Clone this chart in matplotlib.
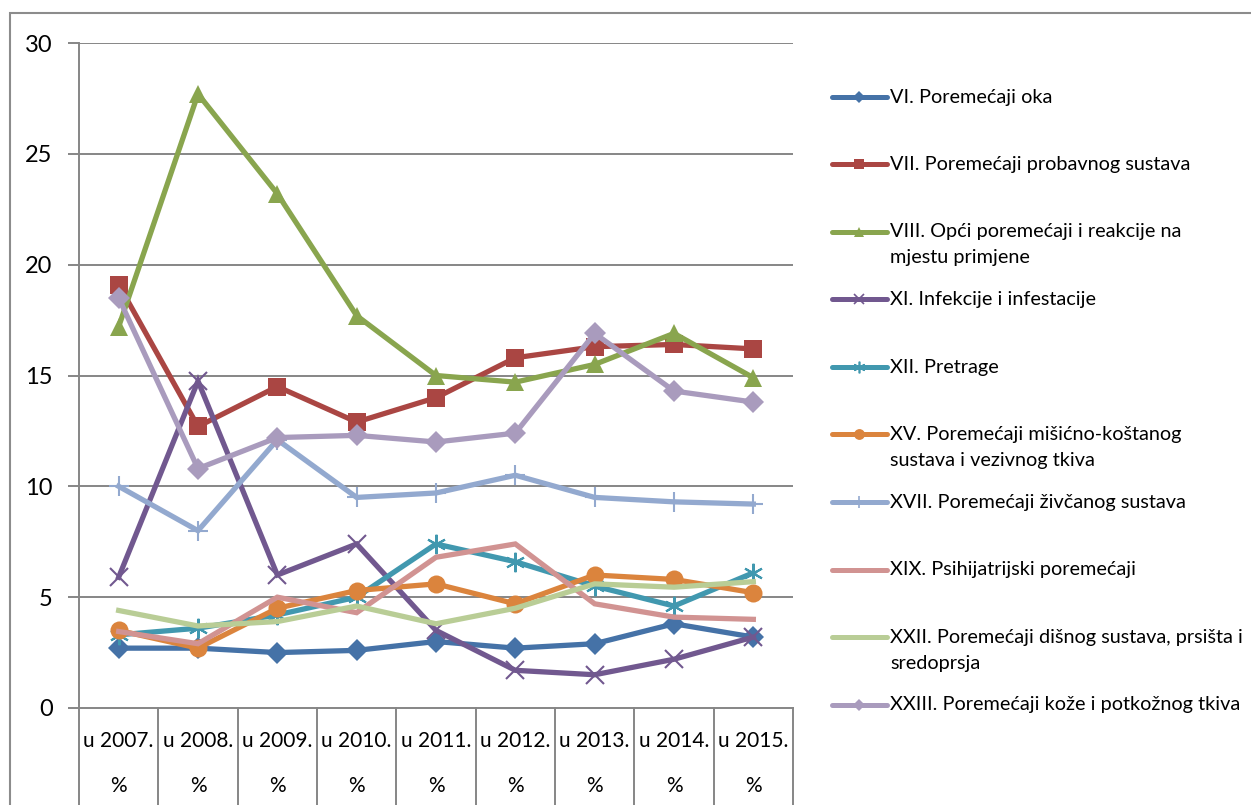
import matplotlib
matplotlib.use("Agg")
import matplotlib.pyplot as plt
from matplotlib.lines import Line2D
from matplotlib.patches import Rectangle

plt.rcParams['font.family'] = ['Lato', 'DejaVu Sans']

years = ["u 2007.", "u 2008.", "u 2009.", "u 2010.", "u 2011.",
         "u 2012.", "u 2013.", "u 2014.", "u 2015."]

names = [
    "VI. Poremećaji oka",
    "VII. Poremećaji probavnog sustava",
    "VIII. Opći poremećaji i reakcije na\nmjestu primjene",
    "XI. Infekcije i infestacije",
    "XII. Pretrage",
    "XV. Poremećaji mišićno-koštanog\nsustava i vezivnog tkiva",
    "XVII. Poremećaji živčanog sustava",
    "XIX. Psihijatrijski poremećaji",
    "XXII. Poremećaji dišnog sustava, prsišta i\nsredoprsja",
    "XXIII. Poremećaji kože i potkožnog tkiva",
]

vi_oka = [2.7, 2.7, 2.5, 2.6, 3.0, 2.7, 2.9, 3.8, 3.2]
vii_probavni = [19.1, 12.7, 14.5, 12.9, 14.0, 15.8, 16.3, 16.4, 16.2]
viii_opci = [17.2, 27.7, 23.2, 17.7, 15.0, 14.7, 15.5, 16.9, 14.9]
xi_infekcije = [5.9, 14.75, 6.0, 7.4, 3.5, 1.7, 1.5, 2.2, 3.2]
xii_pretrage = [3.3, 3.6, 4.2, 5.0, 7.4, 6.6, 5.5, 4.6, 6.1]
xv_misicno = [3.5, 2.7, 4.5, 5.3, 5.6, 4.7, 6.0, 5.8, 5.2]
xvii_zivcani = [10.0, 8.0, 12.1, 9.5, 9.7, 10.5, 9.5, 9.3, 9.2]
xix_psihijatrijski = [3.45, 2.9, 5.0, 4.3, 6.8, 7.4, 4.7, 4.1, 4.0]
xxii_disni = [4.4, 3.7, 3.9, 4.6, 3.8, 4.5, 5.6, 5.45, 5.7]
xxiii_koza = [18.5, 10.8, 12.2, 12.3, 12.0, 12.4, 16.9, 14.3, 13.8]

series = [vi_oka, vii_probavni, viii_opci, xi_infekcije, xii_pretrage,
          xv_misicno, xvii_zivcani, xix_psihijatrijski, xxii_disni, xxiii_koza]

colors = ['#4572A7', '#AA4643', '#89A54E', '#71588F', '#4198AF',
          '#DB843D', '#93A9CF', '#D19392', '#B9CD96', '#A99BBD']
markers = ['D', 's', '^', 'x', (6, 2, 0), 'o', '+', None, None, 'D']
msizes = [11, 13, 13, 13, 14, 13, 14, 0, 0, 11]

W, H = 1251, 805
fig = plt.figure(figsize=(W / 100, H / 100), dpi=100)

# outer border
fig.patches.append(Rectangle((10 / W, -0.1), 1.2, 1.1 - 13 / H, transform=fig.transFigure,
                             fill=False, edgecolor='#8c8c8c', lw=1.5))

ax = fig.add_axes([79 / W, 1 - 708 / H, 714 / W, 665 / H])
x = list(range(len(years)))

grid_c = '#868686'
for v in range(5, 31, 5):
    ax.axhline(v, color=grid_c, lw=1.4, zorder=0)

for i, (vals, c, m, ms) in enumerate(zip(series, colors, markers, msizes)):
    kw = dict(color=c, lw=3.8, solid_joinstyle='miter', zorder=2 + i * 0.01)
    if m is not None:
        mew = 1.5 if m in ('x', '+') or isinstance(m, tuple) else 0
        ax.plot(x, vals, marker=m, markersize=ms, markeredgewidth=mew,
                markerfacecolor=c, markeredgecolor=c, **kw)
    else:
        ax.plot(x, vals, **kw)

ax.set_xlim(-0.5, 8.5)
ax.set_ylim(0, 30)
ax.set_yticks(range(0, 31, 5))
ax.tick_params(axis='y', length=8, width=1.4, color=grid_c, labelsize=17, pad=11)
ax.set_xticks([])
for s in ['top', 'right']:
    ax.spines[s].set_visible(False)
for s in ['left', 'bottom']:
    ax.spines[s].set_color(grid_c)
    ax.spines[s].set_linewidth(1.4)

# category table below axis
xt = ax.get_xaxis_transform()
for b in [i - 0.5 for i in range(len(years) + 1)]:
    ax.plot([b, b], [0, -0.2], color=grid_c, lw=1.4, transform=xt, clip_on=False)
for i, lab in enumerate(years):
    ax.text(i, -(741 - 708) / 665, lab, transform=xt, ha='center', va='center', fontsize=15)
    ax.text(i, -(786 - 708) / 665, "%", transform=xt, ha='center', va='center', fontsize=15)

# legend
leg_y0 = 97
step = 67.5
for i, (name, c, m, ms) in enumerate(zip(names, colors, markers, msizes)):
    yy = 1 - (leg_y0 + i * step) / H
    ln = Line2D([832 / W, 887 / W], [yy, yy], transform=fig.transFigure, color=c, lw=3.6,
                solid_capstyle='round')
    fig.add_artist(ln)
    if m is not None:
        mew = 1.2 if m in ('x', '+') or isinstance(m, tuple) else 0
        mk = Line2D([859.5 / W], [yy], transform=fig.transFigure, marker=m,
                    markersize=ms * 0.6, markeredgewidth=mew, markerfacecolor=c,
                    markeredgecolor=c, linestyle='none')
        fig.add_artist(mk)
    lines = name.split('\n')
    for k, t in enumerate(lines):
        fig.text(890 / W, yy - k * 26 / H, t, ha='left', va='center', fontsize=14.3)

fig.savefig('out.png', dpi=100)
